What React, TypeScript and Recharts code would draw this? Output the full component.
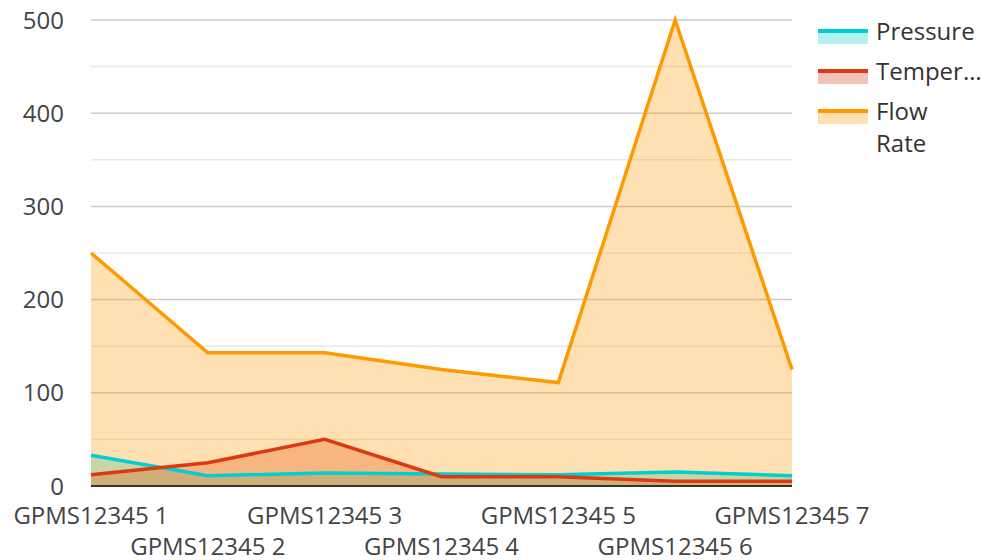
import React from "react";
import { ComposedChart, Area, Line, XAxis, YAxis, CartesianGrid, Legend } from "recharts";

const categories = [
  "GPMS12345 1",
  "GPMS12345 2",
  "GPMS12345 3",
  "GPMS12345 4",
  "GPMS12345 5",
  "GPMS12345 6",
  "GPMS12345 7",
];
const pressure = [33, 11, 14, 13, 12, 15, 11];
const temperature = [12, 25, 50, 10, 10, 5, 5];
const flowRate = [250, 143, 143, 125, 111, 500, 125];
const yTicks = [0, 50, 100, 150, 200, 250, 300, 350, 400, 450, 500];

const series = [
  { key: "Pressure", color: "#00CED1", values: pressure },
  { key: "Temperature", color: "#DC3912", values: temperature },
  { key: "Flow Rate", color: "#FF9900", values: flowRate },
];

const data = categories.map((name, i) => {
  const row: Record<string, string | number> = { name };
  series.forEach((s) => (row[s.key] = s.values[i]));
  return row;
});

const FONT = "'Open Sans', 'Noto Sans', sans-serif";

const XTick = (props: any) => {
  const { x, y, payload, index } = props;
  return (
    <text
      x={x}
      y={y + (index % 2 === 0 ? 30 : 61)}
      textAnchor="middle"
      fontSize={24}
      fill="#444"
      fontFamily={FONT}
    >
      {payload.value}
    </text>
  );
};

const gridLine = (props: any) => {
  const major = props.index === undefined || props.index % 2 === 0;
  return (
    <line
      key={props.key}
      x1={props.x1}
      x2={props.x2}
      y1={props.y1}
      y2={props.y2}
      stroke={major ? "#cccccc" : "#e8e8e8"}
      strokeWidth={1.5}
    />
  );
};

const LegendContent = () => (
  <div style={{ paddingLeft: 26, fontFamily: FONT, fontSize: 24, color: "#333" }}>
    {series.map((s) => (
      <div key={s.key} style={{ display: "flex", alignItems: "flex-start", marginBottom: 8 }}>
        <div style={{ width: 50, marginTop: 14, flexShrink: 0 }}>
          <div style={{ height: 4, background: s.color }} />
          <div style={{ height: 11, background: s.color, opacity: 0.3 }} />
        </div>
        <div
          style={{
            marginLeft: 8,
            width: 106,
            lineHeight: "32px",
            overflow: "hidden",
            textOverflow: "ellipsis",
          }}
        >
          {s.key}
        </div>
      </div>
    ))}
  </div>
);

export default function App() {
  return (
    <div style={{ position: "absolute", left: 0, top: 0, fontFamily: FONT }}>
      <ComposedChart
        width={982}
        height={560}
        data={data}
        margin={{ top: 20, right: 0, left: 0, bottom: 0 }}
      >
        <CartesianGrid vertical={false} horizontal={gridLine} />
        <XAxis
          dataKey="name"
          interval={0}
          height={74}
          tickLine={false}
          axisLine={{ stroke: "#333", strokeWidth: 2 }}
          tick={<XTick />}
        />
        <YAxis
          width={91}
          domain={[0, 500]}
          ticks={yTicks}
          tickLine={false}
          axisLine={false}
          tickMargin={21}
          tickFormatter={(v: number) => (v % 100 === 0 ? String(v) : "")}
          tick={{ fontSize: 24, fill: "#444", fontFamily: FONT }}
        />
        <Legend
          layout="vertical"
          align="right"
          verticalAlign="top"
          wrapperStyle={{ top: 15, right: 0, width: 190 }}
          content={<LegendContent />}
        />
        {series.map((s) => (
          <Area
            key={"a" + s.key}
            type="linear"
            dataKey={s.key}
            stroke="none"
            fill={s.color}
            fillOpacity={0.3}
            dot={false}
            activeDot={false}
            legendType="none"
            isAnimationActive={false}
          />
        ))}
        {series.map((s) => (
          <Line
            key={"l" + s.key}
            type="linear"
            dataKey={s.key}
            stroke={s.color}
            strokeWidth={3.5}
            dot={false}
            activeDot={false}
            legendType="none"
            isAnimationActive={false}
          />
        ))}
      </ComposedChart>
    </div>
  );
}
